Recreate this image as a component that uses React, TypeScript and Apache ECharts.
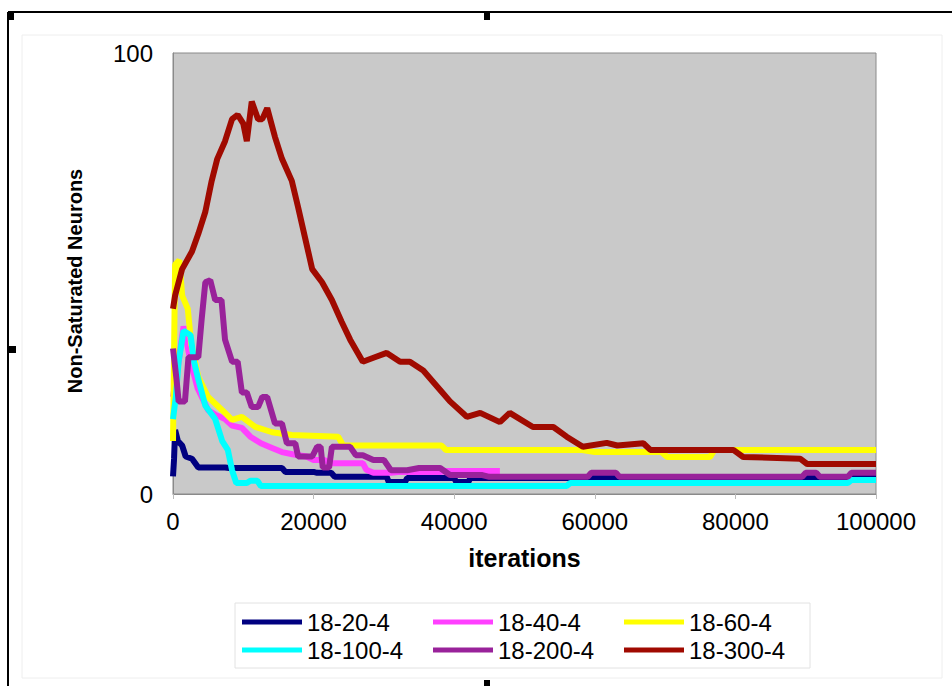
import React, { useEffect, useRef } from "react";
import * as echarts from "echarts";

const seriesNames = ["18-20-4", "18-40-4", "18-60-4", "18-100-4", "18-200-4", "18-300-4"];
const seriesColors = ["#000080", "#ff40ff", "#ffff00", "#00ffff", "#99229a", "#a00a00"];
const xTickValues = [0, 20000, 40000, 60000, 80000, 100000];
const yTickValues = [0, 100];

const s18_20_4 = [
  [0, 4], [150, 8], [300, 14.5], [700, 12], [1300, 11], [1800, 8.5], [2700, 8], [3600, 6],
  [7400, 6], [8000, 5.9], [15500, 5.9], [16000, 5], [20000, 5], [20500, 4.8], [22500, 4.8],
  [23000, 3.9], [30400, 3.9], [30700, 2.7], [33000, 2.7], [33300, 3.6], [40000, 3.6],
  [40300, 2.7], [42000, 2.7], [42300, 3.6], [100000, 3.6],
];
const s18_40_4 = [
  [0, 22], [800, 30], [1500, 38], [2500, 30], [3500, 24], [5000, 19], [6000, 18], [7400, 17],
  [8400, 15.5], [9800, 15], [11000, 13], [12500, 11.5], [14000, 10.5], [15500, 9.5],
  [17000, 9], [19000, 8.5], [20000, 7.7], [21500, 7.7], [22500, 7], [27000, 7], [27500, 5.5],
  [28500, 4.8], [31000, 4.8], [32000, 5], [38000, 5], [39000, 5.2], [46500, 5.2],
];
const s18_60_4 = [
  [0, 12], [300, 52], [900, 53], [1300, 45], [2100, 42], [2600, 34], [3600, 26.5], [5000, 22],
  [7000, 19], [8400, 16.8], [9800, 17.5], [11700, 15.2], [14100, 14], [16900, 13.4],
  [23500, 13], [24200, 11], [38200, 11], [38800, 10], [58000, 10], [60000, 9.5], [66000, 9.5],
  [66800, 9.5], [69500, 9.5], [70300, 8.4], [76400, 8.4], [77000, 10], [100000, 10],
];
const s18_100_4 = [
  [0, 17], [400, 22], [800, 30], [1500, 37], [2500, 36], [3000, 30], [3600, 26], [4600, 20],
  [6000, 17], [7000, 12], [7800, 10], [8400, 5.4], [9000, 2.5], [10500, 2.5], [11000, 3],
  [12000, 3], [12500, 1.8], [56000, 1.8], [56500, 2.5], [96000, 2.5], [96500, 3.2], [100000, 3.2],
];
const s18_200_4 = [
  [0, 33], [500, 26], [800, 21], [1700, 21], [2200, 31], [3600, 31], [4100, 40], [4600, 48],
  [5300, 48.5], [6000, 44], [6900, 44], [7400, 35], [8400, 30], [9200, 30], [9800, 23],
  [10500, 23], [11200, 19.7], [12100, 19.7], [12700, 22], [13400, 22], [14500, 16], [15500, 16],
  [16200, 11.5], [17400, 11.5], [17800, 8.5], [19800, 8.5], [20500, 10.7], [21000, 10.7],
  [21300, 6], [22200, 6], [22600, 10.7], [25200, 10.7], [26000, 8.8], [27000, 8.8], [28500, 7.7],
  [30000, 7.7], [31000, 5.4], [33300, 5.4], [35000, 5.9], [38000, 5.9], [39400, 4.3],
  [44000, 4.3], [45000, 3.9], [59000, 3.9], [59500, 4.8], [63000, 4.8], [63500, 3.9],
  [89500, 3.9], [90000, 4.8], [91500, 4.8], [92000, 3.9], [96000, 3.9], [96500, 4.8], [100000, 4.8],
];
const s18_300_4 = [
  [0, 42], [300, 45], [1300, 51], [2700, 55], [3600, 59], [4600, 64], [5500, 71], [6300, 76],
  [7400, 80], [8400, 85], [9200, 86], [10000, 84], [10500, 80], [11200, 89], [12100, 85],
  [12700, 85], [13400, 87.5], [14500, 81], [15500, 76], [16900, 71], [17800, 65], [18800, 58],
  [19800, 51], [21200, 48], [22600, 44], [24000, 39], [25200, 35], [27000, 30], [28700, 31],
  [30400, 32], [32300, 30], [33700, 30], [35600, 28], [38000, 23.6], [39400, 21], [41800, 17.5],
  [43700, 18.4], [46500, 16.3], [47900, 18.4], [51200, 15.2], [54100, 15.2], [56000, 13],
  [58300, 10.7], [61700, 11.6], [63200, 11], [66900, 11.5], [67900, 10], [79700, 10],
  [81100, 8.4], [89200, 8], [90200, 6.8], [100000, 6.8],
];

const seriesData = [s18_20_4, s18_40_4, s18_60_4, s18_100_4, s18_200_4, s18_300_4];

const FONT = "'Liberation Sans', Arial, sans-serif";

export default function App() {
  const ref = useRef<HTMLDivElement>(null);
  useEffect(() => {
    if (!ref.current) return;
    const chart = echarts.init(ref.current, null, { renderer: "svg" });
    const legendCols = [242, 433, 624];
    const legendRows = [610, 638];
    const legends = seriesNames.map((name, i) => ({
      data: [name],
      left: legendCols[i % 3],
      top: legendRows[Math.floor(i / 3)],
      padding: 0,
      itemWidth: 60,
      itemHeight: 5,
      icon: "rect",
      selectedMode: false,
      textStyle: { fontFamily: FONT, fontSize: 24, color: "#000", padding: [0, 0, 0, 0] },
    }));
    chart.setOption({
      animation: false,
      backgroundColor: "#ffffff",
      grid: {
        left: 173,
        top: 53,
        width: 703,
        height: 441,
        show: true,
        backgroundColor: "#c9c9c9",
        borderColor: "#8a8a8a",
        borderWidth: 1,
      },
      legend: legends,
      xAxis: {
        type: "value",
        min: 0,
        max: 100000,
        interval: 20000,
        name: "iterations",
        nameLocation: "middle",
        nameGap: 51,
        nameTextStyle: { fontFamily: FONT, fontSize: 25, fontWeight: "bold", color: "#000" },
        axisLine: { show: true, lineStyle: { color: "#8a8a8a", width: 1 } },
        axisTick: { show: true, length: 5, lineStyle: { color: "#bbbbbb" } },
        axisLabel: {
          margin: 15,
          fontFamily: FONT,
          fontSize: 24,
          color: "#000",
          formatter: (v: number) => (xTickValues.includes(v) ? String(v) : ""),
        },
        splitLine: { show: false },
      },
      yAxis: {
        type: "value",
        min: 0,
        max: 100,
        interval: 100,
        axisLine: { show: true, lineStyle: { color: "#8a8a8a", width: 1 } },
        axisTick: { show: false },
        axisLabel: {
          margin: 20,
          fontFamily: FONT,
          fontSize: 24,
          color: "#000",
          formatter: (v: number) => (yTickValues.includes(v) ? String(v) : ""),
        },
        splitLine: { show: false },
      },
      series: seriesNames.map((name, i) => ({
        name,
        type: "line",
        data: seriesData[i],
        showSymbol: false,
        symbol: "none",
        color: seriesColors[i],
        lineStyle: { width: 6, color: seriesColors[i] },
        z: 2 + i,
      })),
      graphic: [
        { type: "rect", shape: { x: 22, y: 35, width: 920, height: 643 }, style: { fill: "none", stroke: "#eeeeee", lineWidth: 1 }, silent: true },
        { type: "rect", shape: { x: 235, y: 603, width: 575, height: 65 }, style: { fill: "none", stroke: "#e2e2e2", lineWidth: 1 }, silent: true },
        {
          type: "text",
          x: 75,
          y: 281,
          rotation: Math.PI / 2,
          style: {
            text: "Non-Saturated Neurons",
            fontFamily: FONT,
            fontSize: 20,
            fontWeight: "bold",
            fill: "#000",
            textAlign: "center",
            textVerticalAlign: "middle",
          },
          silent: true,
        },
        { type: "line", shape: { x1: 8, y1: 12, x2: 952, y2: 12 }, style: { stroke: "#000", lineWidth: 2 }, silent: true },
        { type: "line", shape: { x1: 8, y1: 12, x2: 8, y2: 686 }, style: { stroke: "#000", lineWidth: 2 }, silent: true },
        { type: "rect", shape: { x: 8, y: 12, width: 6, height: 8 }, style: { fill: "#000" }, silent: true },
        { type: "rect", shape: { x: 484, y: 12, width: 6, height: 8 }, style: { fill: "#000" }, silent: true },
        { type: "rect", shape: { x: 8, y: 346, width: 8, height: 7 }, style: { fill: "#000" }, silent: true },
        { type: "rect", shape: { x: 484, y: 680, width: 6, height: 6 }, style: { fill: "#000" }, silent: true },
      ],
    });
    return () => chart.dispose();
  }, []);
  return (
    <div
      ref={ref}
      style={{ position: "fixed", left: 0, top: 0, width: 952, height: 686, background: "#fff" }}
    />
  );
}
